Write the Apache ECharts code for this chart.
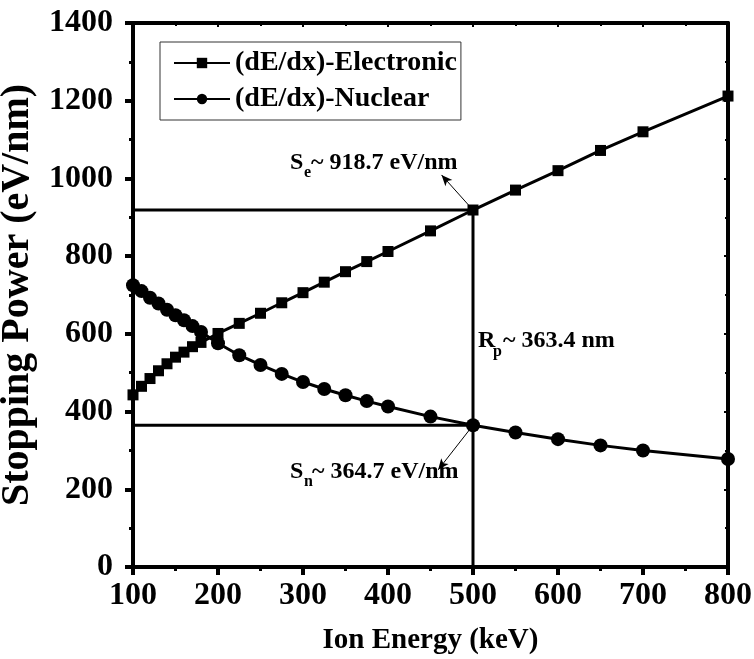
<!DOCTYPE html>
<html>
<head>
<meta charset="utf-8">
<script src="https://cdn.jsdelivr.net/npm/echarts@6/dist/echarts.min.js"></script>
<style>html,body{margin:0;padding:0;background:#fff}#c{width:754px;height:659px}</style>
</head>
<body>
<div id="c"></div>
<script>
const energies = [100,110,120,130,140,150,160,170,180,200,225,250,275,300,325,350,375,400,450,500,550,600,650,700,800];
const electronic = [443,465,485,505,523,540,553,567,578,601,627,653,680,706,733,760,786,812,865,918.7,970,1020,1072,1120,1212];
const nuclear = [725,710,693,678,662,648,635,620,605,576,545,520,497,476,458,442,427,413,387,364.7,346,329,313,300,278];
const seriesNames = ['(dE/dx)-Electronic','(dE/dx)-Nuclear'];
const xTicks = [100,200,300,400,500,600,700,800];
const yTicks = [0,200,400,600,800,1000,1200,1400];
const rp = 500, se = 918.7, sn = 364.7;
const seGuide = [[100,se],[rp,se],[rp,0]];
const snGuide = [[100,sn],[rp,sn]];
const seArrow = [[rp,se],[463,1009]];
const snArrow = [[rp,sn],[459,250]];

const FONT = '"Liberation Serif","Times New Roman",serif';
const chart = echarts.init(document.getElementById('c'));
const axisCommon = {
  axisLine:{show:true,onZero:false,lineStyle:{color:'#000',width:4}},
  splitLine:{show:false}
};
function txt(x,y,s,size){
  return {type:'text',left:x,top:y,style:{text:s,font:'bold '+size+'px '+FONT,fill:'#000'}};
}
chart.setOption({
  animation:false,
  backgroundColor:'#fff',
  grid:{left:133,right:26,top:23,bottom:92,containLabel:false,outerBoundsMode:'none'},
  legend:{
    left:160,top:42,orient:'vertical',
    data:seriesNames,
    itemWidth:56,itemHeight:13,itemGap:8,
    padding:[7,4,7,13],
    borderColor:'#333',borderWidth:1,
    textStyle:{fontFamily:FONT,fontWeight:'bold',fontSize:28,color:'#000'}
  },
  xAxis:[
    Object.assign({type:'value',min:xTicks[0],max:xTicks[xTicks.length-1],interval:100,position:'bottom',
      name:'Ion Energy (keV)',nameLocation:'middle',nameGap:59,
      nameTextStyle:{fontFamily:FONT,fontWeight:'bold',fontSize:29,color:'#000'},
      axisTick:{show:true,inside:false,length:8,lineStyle:{width:4,color:'#000'}},
      minorTick:{show:true,splitNumber:2,length:4,lineStyle:{width:3,color:'#000'}},
      axisLabel:{margin:13,fontFamily:FONT,fontWeight:'bold',fontSize:32,color:'#000',formatter:v=>String(v)}},axisCommon),
    Object.assign({type:'value',min:100,max:800,interval:100,position:'top',
      axisTick:{show:true,inside:true,length:4,lineStyle:{width:2,color:'#000'}},
      minorTick:{show:true,splitNumber:2,length:3,lineStyle:{width:2,color:'#000'}},
      axisLabel:{show:false}},axisCommon)
  ],
  yAxis:[
    Object.assign({type:'value',min:yTicks[0],max:yTicks[yTicks.length-1],interval:200,position:'left',
      name:'Stopping Power (eV/nm)',nameLocation:'middle',nameGap:87,
      nameTextStyle:{fontFamily:FONT,fontWeight:'bold',fontSize:40,color:'#000'},
      axisTick:{show:true,inside:false,length:8,lineStyle:{width:4,color:'#000'}},
      minorTick:{show:true,splitNumber:2,length:4,lineStyle:{width:3,color:'#000'}},
      axisLabel:{margin:20,fontFamily:FONT,fontWeight:'bold',fontSize:32,color:'#000',formatter:v=>String(v)}},axisCommon),
    Object.assign({type:'value',min:0,max:1400,interval:200,position:'right',
      axisTick:{show:true,inside:true,length:4,lineStyle:{width:2,color:'#000'}},
      minorTick:{show:true,splitNumber:2,length:3,lineStyle:{width:2,color:'#000'}},
      axisLabel:{show:false}},axisCommon)
  ],
  series:[
    {name:'guideSe',type:'line',data:seGuide,symbol:'none',silent:true,
      lineStyle:{color:'#000',width:3},z:1,
      markLine:{silent:true,symbol:['none','arrow'],symbolSize:[7,11],label:{show:false},
        lineStyle:{color:'#000',width:1,type:'solid'},
        data:[[{coord:seArrow[0]},{coord:seArrow[1]}]]}},
    {name:'guideSn',type:'line',data:snGuide,symbol:'none',silent:true,
      lineStyle:{color:'#000',width:3},z:1,
      markLine:{silent:true,symbol:['none','arrow'],symbolSize:[7,11],label:{show:false},
        lineStyle:{color:'#000',width:1,type:'solid'},
        data:[[{coord:snArrow[0]},{coord:snArrow[1]}]]}},
    {name:seriesNames[0],type:'line',data:energies.map((e,i)=>[e,electronic[i]]),
      symbol:'rect',symbolSize:11,showAllSymbol:true,
      itemStyle:{color:'#000'},lineStyle:{color:'#000',width:3},z:3},
    {name:seriesNames[1],type:'line',data:energies.map((e,i)=>[e,nuclear[i]]),
      symbol:'circle',symbolSize:14,showAllSymbol:true,
      itemStyle:{color:'#000'},lineStyle:{color:'#000',width:3},z:3}
  ],
  graphic:[
    txt(290,151,'S',24), txt(304,165,'e',16), txt(311,151,'~ 918.7 eV/nm',24),
    txt(478,329,'R',24), txt(493,344,'p',16), txt(503,329,'~ 363.4 nm',24),
    txt(290,460,'S',24), txt(304,474,'n',16), txt(312,460,'~ 364.7 eV/nm',24)
  ]
});
</script>
</body>
</html>
